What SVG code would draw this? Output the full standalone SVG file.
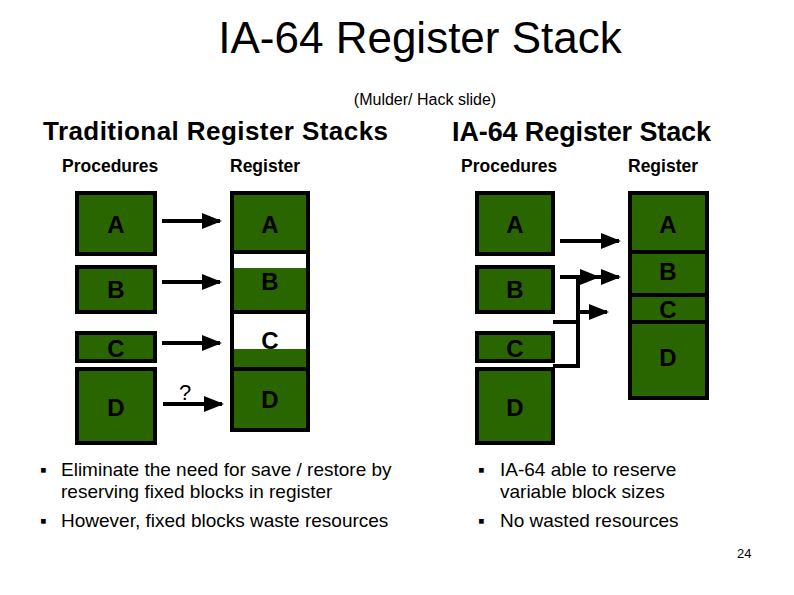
<svg xmlns="http://www.w3.org/2000/svg" width="794" height="595" viewBox="0 0 794 595">
<defs>
<marker id="ah" markerWidth="5" markerHeight="4" refX="4.5" refY="2" orient="auto" markerUnits="strokeWidth"><path d="M0,0 L5,2 L0,4 z" fill="#000"/></marker>
<style>
.t{font-family:"Liberation Sans",Arial,sans-serif}
.box{fill:#2a6600;stroke:#000;stroke-width:4}
.wc{fill:#fff;stroke:#000;stroke-width:4}
.lbl{font-family:"Liberation Sans",Arial,sans-serif;font-weight:bold;font-size:24px;text-anchor:middle;fill:#000}
.h{font-family:"Liberation Sans",Arial,sans-serif;font-weight:bold;font-size:17.5px;fill:#000}
.ln{stroke:#000;stroke-width:4;fill:none}
.b{font-family:"Liberation Sans",Arial,sans-serif;font-size:19px;fill:#000}
</style>
</defs>
<rect width="794" height="595" fill="#fff"/>
<text class="t" x="420" y="53" font-size="44" text-anchor="middle">IA-64 Register Stack</text>
<text class="t" x="425" y="105" font-size="16" text-anchor="middle">(Mulder/ Hack slide)</text>
<text class="t" x="43" y="140" font-size="26" font-weight="bold" textLength="345">Traditional Register Stacks</text>
<text class="t" x="452" y="141" font-size="27" font-weight="bold" textLength="259">IA-64 Register Stack</text>
<text class="h" x="62" y="172">Procedures</text>
<text class="h" x="230" y="172">Register</text>
<text class="h" x="461" y="172">Procedures</text>
<text class="h" x="628" y="172">Register</text>

<g id="left-procs">
<rect class="box" x="77" y="193" width="78" height="61"/><text class="lbl" x="116" y="233">A</text>
<rect class="box" x="77" y="267" width="78" height="45"/><text class="lbl" x="116" y="298">B</text>
<rect class="box" x="77" y="333" width="78" height="28"/><text class="lbl" x="116" y="357">C</text>
<rect class="box" x="77" y="369" width="78" height="74"/><text class="lbl" x="116" y="416">D</text>
</g>
<g id="left-register">
<rect class="box" x="232" y="193" width="76" height="59"/><text class="lbl" x="270" y="233">A</text>
<rect class="wc" x="232" y="252" width="76" height="60"/><rect x="234" y="268" width="72" height="42" fill="#2a6600"/><text class="lbl" x="270" y="290">B</text>
<rect class="wc" x="232" y="312" width="76" height="60"/><rect x="234" y="349" width="72" height="21" fill="#2a6600"/><text class="lbl" x="270" y="349">C</text>
<rect class="box" x="232" y="369" width="76" height="61"/><text class="lbl" x="270" y="408">D</text>
</g>
<g id="right-procs">
<rect class="box" x="477" y="193" width="76" height="61"/><text class="lbl" x="515" y="233">A</text>
<rect class="box" x="477" y="267" width="76" height="45"/><text class="lbl" x="515" y="298">B</text>
<rect class="box" x="477" y="333" width="76" height="28"/><text class="lbl" x="515" y="357">C</text>
<rect class="box" x="477" y="369" width="76" height="74"/><text class="lbl" x="515" y="416">D</text>
</g>
<g id="right-register">
<rect class="box" x="630" y="193" width="77" height="59"/><text class="lbl" x="668" y="233">A</text>
<rect class="box" x="630" y="252" width="77" height="43"/><text class="lbl" x="668" y="280">B</text>
<rect class="box" x="630" y="295" width="77" height="27"/><text class="lbl" x="668" y="318">C</text>
<rect class="box" x="630" y="322" width="77" height="76"/><text class="lbl" x="668" y="366">D</text>
</g>
<g id="connectors">
<line class="ln" x1="162" y1="221" x2="220" y2="221" marker-end="url(#ah)"/>
<line class="ln" x1="162" y1="282" x2="220" y2="282" marker-end="url(#ah)"/>
<line class="ln" x1="162" y1="343" x2="220" y2="343" marker-end="url(#ah)"/>
<line class="ln" x1="163" y1="404" x2="222" y2="404" marker-end="url(#ah)"/>
<text class="t" x="185" y="400" font-size="22" text-anchor="middle">?</text>
<line class="ln" x1="560" y1="241" x2="619" y2="241" marker-end="url(#ah)"/>
<line class="ln" x1="560" y1="277" x2="619" y2="277" marker-end="url(#ah)"/>
<line class="ln" x1="578" y1="277" x2="598" y2="277" marker-end="url(#ah)"/>
<polyline class="ln" points="553,322 578,322"/>
<polyline class="ln" points="578,277 578,366 553,366"/>
<line class="ln" x1="578" y1="312" x2="607" y2="312" marker-end="url(#ah)"/>
</g>
<g id="bullets">
<text class="b" x="40" y="476">▪</text><text class="b" x="61" y="476">Eliminate the need for save / restore by</text>
<text class="b" x="61" y="498">reserving fixed blocks in register</text>
<text class="b" x="40" y="527">▪</text><text class="b" x="61" y="527">However, fixed blocks waste resources</text>
<text class="b" x="478" y="476">▪</text><text class="b" x="500" y="476">IA-64 able to reserve</text>
<text class="b" x="500" y="498">variable block sizes</text>
<text class="b" x="478" y="527">▪</text><text class="b" x="500" y="527">No wasted resources</text>
</g>
<text class="t" x="737" y="558" font-size="13">24</text>
</svg>
